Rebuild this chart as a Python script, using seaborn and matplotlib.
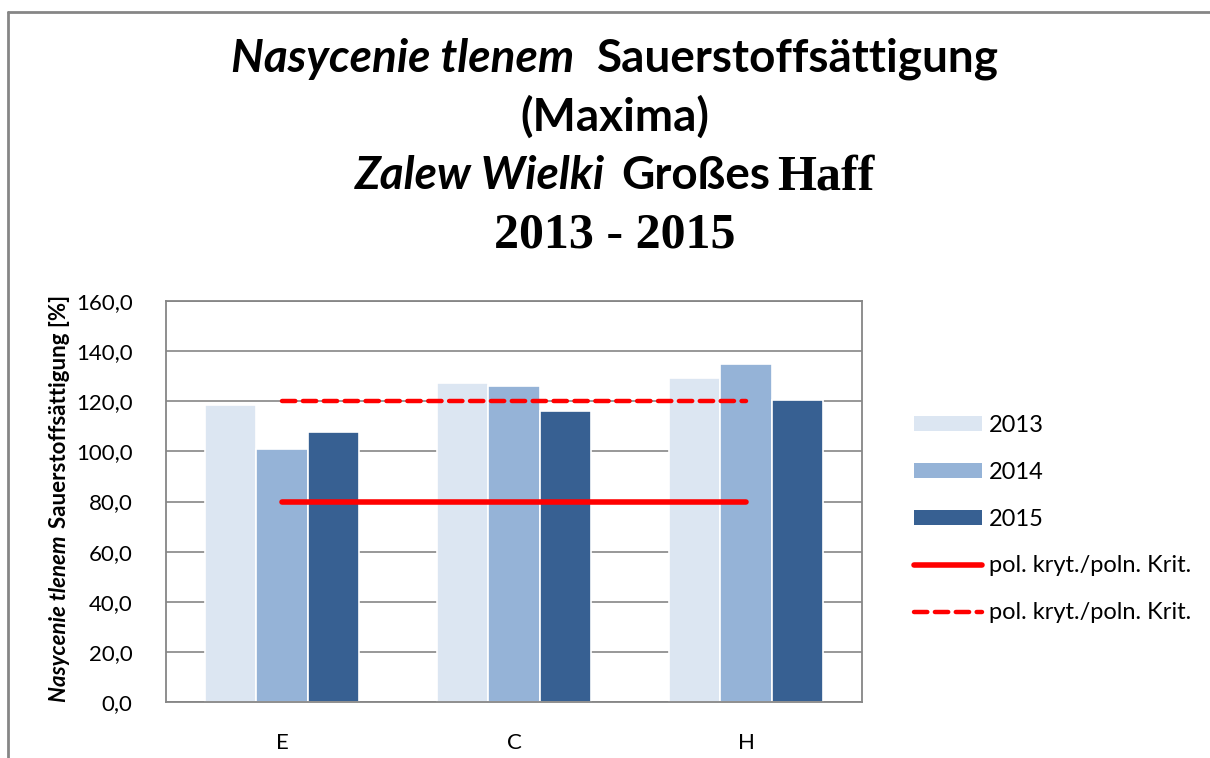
import pandas as pd
import matplotlib.pyplot as plt
import matplotlib.lines as mlines
import seaborn as sns

# dane
sites = ['E', 'C', 'H']
years = ['2013', '2014', '2015']
val_2013 = [118.5, 127.3, 129.3]
val_2014 = [101.0, 126.1, 134.9]
val_2015 = [107.7, 116.1, 120.5]
crit_low = [80, 80, 80]
crit_high = [120, 120, 120]
crit_label = 'pol. kryt./poln. Krit.'
yticks = [0, 20, 40, 60, 80, 100, 120, 140, 160]
ytick_labels = ['0,0', '20,0', '40,0', '60,0', '80,0', '100,0', '120,0', '140,0', '160,0']

colors = ['#DCE6F2', '#95B3D7', '#376092']
RED = '#FF0000'
GRID = '#868686'
W, H = 1210, 758

rows = []
for yr, vals in zip(years, [val_2013, val_2014, val_2015]):
    for s, v in zip(sites, vals):
        rows.append({'site': s, 'year': yr, 'value': v})
df = pd.DataFrame(rows)

sns.set_theme(style='white')
plt.rcParams['font.family'] = ['Lato', 'DejaVu Sans']
plt.rcParams['text.color'] = 'black'

fig = plt.figure(figsize=(W / 100, H / 100), dpi=100)
ax = fig.add_axes([166 / W, 1 - 702 / H, 696 / W, 401 / H])

sns.barplot(data=df, x='site', y='value', hue='year', palette=colors,
            saturation=1, width=0.66, edgecolor='white', linewidth=1.2,
            ax=ax, zorder=2, legend=False)

xs = list(range(len(sites)))
ax.plot(xs, crit_low, color=RED, lw=4, solid_capstyle='round', zorder=3)
ax.plot(xs, crit_high, color=RED, lw=3.2, dashes=(3, 1.7),
        dash_capstyle='round', zorder=3)

ax.set_ylim(0, 160)
ax.set_xlim(-0.5, 2.5)
ax.set_yticks(yticks)
ax.set_yticklabels(ytick_labels)
ax.yaxis.grid(True, color=GRID, lw=1.2, zorder=0)
ax.set_axisbelow(True)
ax.tick_params(axis='both', length=0, labelsize=16, colors='black')
ax.tick_params(axis='y', pad=24)
ax.tick_params(axis='x', pad=22)
ax.set_xlabel('')
ax.set_ylabel('')
for sp in ax.spines.values():
    sp.set_color(GRID)
    sp.set_linewidth(1.3)

# legenda
handles = [plt.Rectangle((0, 0), 1, 1, facecolor=c, edgecolor='none') for c in colors]
handles.append(mlines.Line2D([], [], color=RED, lw=4))
handles.append(mlines.Line2D([], [], color=RED, lw=3.2, dashes=(3, 1.7),
                             dash_capstyle='round'))
fig.legend(handles, years + [crit_label, crit_label], frameon=False,
           loc='center left', bbox_to_anchor=(893 / W, 1 - 519 / H),
           fontsize=17, handlelength=2.85, handleheight=0.6,
           labelspacing=1.1, handletextpad=0.3)

# ramka wykresu
fig.add_artist(mlines.Line2D([8 / W, 8 / W], [0, 1 - 12 / H], color=GRID, lw=2))
fig.add_artist(mlines.Line2D([8 / W, 1], [1 - 12 / H, 1 - 12 / H], color=GRID, lw=2))

renderer = fig.canvas.get_renderer()


def rich_line(parts, y_px, cx_px=615):
    texts = []
    widths = []
    for txt, props, gap in parts:
        t = fig.text(0, 0, txt, ha='left', va='baseline', color='black', **props)
        texts.append((t, gap))
        widths.append(t.get_window_extent(renderer).width)
    total = sum(widths) + sum(g for _, g in texts[:-1])
    x = cx_px - total / 2
    for (t, gap), w in zip(texts, widths):
        t.set_position((x / W, 1 - y_px / H))
        x += w + gap


sans_bi = dict(fontsize=33, fontweight='bold', fontstyle='italic')
sans_b = dict(fontsize=33, fontweight='bold')
serif_b = dict(fontsize=36, fontweight='bold', family=['Liberation Serif', 'DejaVu Serif'])

rich_line([('Nasycenie tlenem', sans_bi, 22), ('Sauerstoffsättigung', sans_b, 0)], 72)
rich_line([('(Maxima)', sans_b, 0)], 131)
rich_line([('Zalew Wielki', sans_bi, 16), ('Großes', sans_b, 7), ('Haff', serif_b, 0)], 189)
rich_line([('2013 - 2015', serif_b, 0)], 247)

# opis osi Y
lab_props = dict(fontsize=16, fontweight='bold', rotation=90, ha='center',
                 va='bottom', color='black')
t1 = fig.text(60 / W, 1 - 702 / H, 'Nasycenie tlenem', fontstyle='italic', **lab_props)
len1 = t1.get_window_extent(renderer).height
fig.text(60 / W, 1 - (702 - len1 - 8) / H, 'Sauerstoffsättigung [%]', **lab_props)

fig.savefig('out.png', dpi=100, facecolor='white')
